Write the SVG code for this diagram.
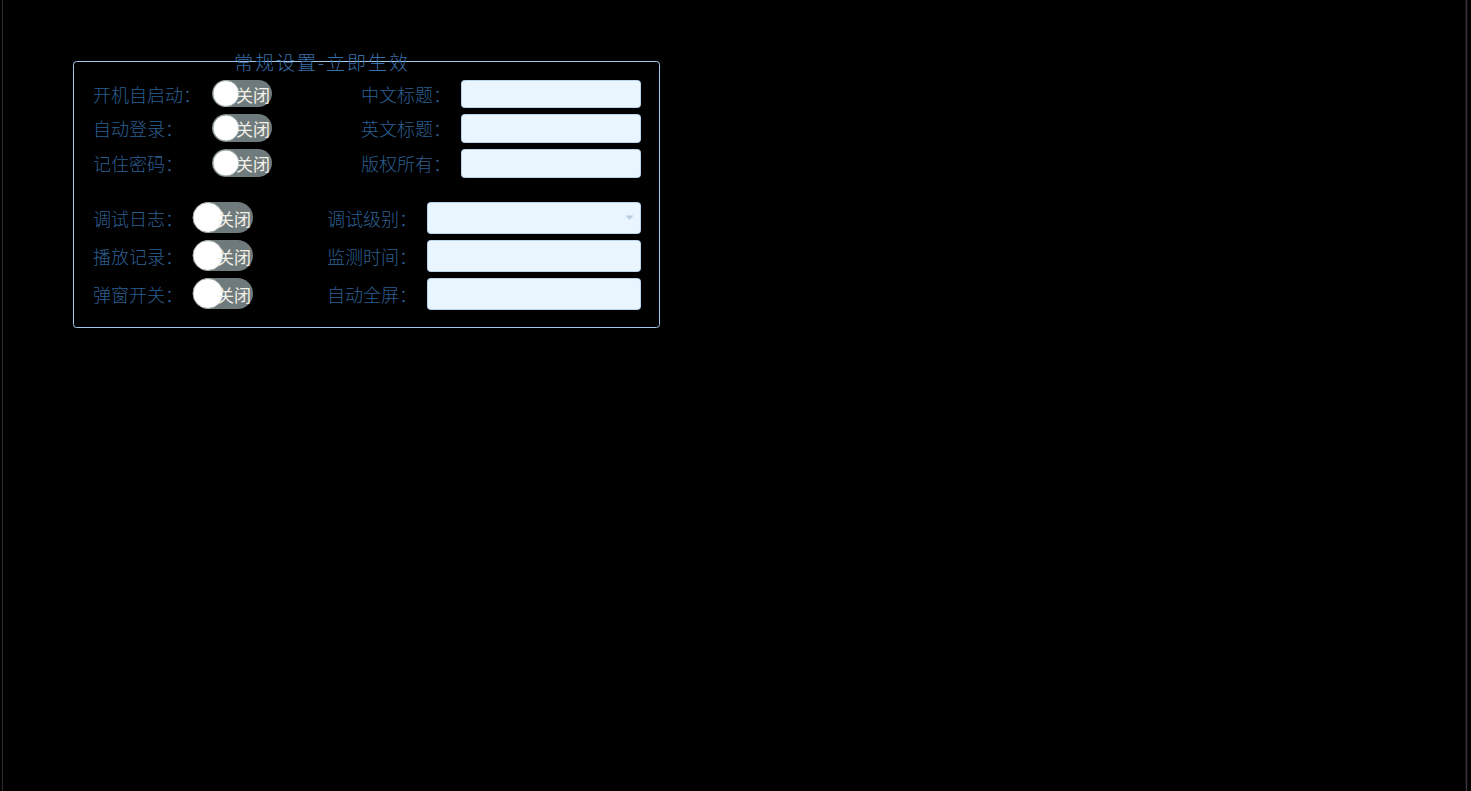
<svg xmlns="http://www.w3.org/2000/svg" width="1471" height="791" viewBox="0 0 1471 791">
<style>
.lbl{font-family:"Noto Sans CJK SC","Noto Sans CJK JP",sans-serif;font-size:18px;font-weight:300;fill:#2c5f90;dominant-baseline:central}
.ttl{font-family:"Noto Sans CJK SC","Noto Sans CJK JP",sans-serif;font-size:19px;font-weight:300;fill:#3a6ea8;dominant-baseline:central}
.pill{fill:#6f7a7c}
.knob{fill:#ffffff;stroke:#9aa3a5;stroke-width:1}
.tt{font-family:"Noto Sans CJK SC","Noto Sans CJK JP",sans-serif;font-size:17px;fill:#f2efe6;dominant-baseline:central}
.inp{fill:#e9f5ff;stroke:#b9d3ea;stroke-width:1}
</style>
<rect x="0" y="0" width="1471" height="791" fill="#000"/>
<line x1="2.5" y1="0" x2="2.5" y2="791" stroke="#2a2c30" stroke-width="1"/>
<line x1="1466.5" y1="0" x2="1466.5" y2="791" stroke="#34363c" stroke-width="1.5"/>
<g id="frame">
<rect x="73.5" y="61.5" width="586" height="266" rx="3" fill="none" stroke="#a4c8ec" stroke-width="1"/>
<text class="ttl" x="234" y="61" textLength="174" lengthAdjust="spacing">常规设置-立即生效</text>
</g>
<g id="autostart">
<text class="lbl" x="93" y="94">开机自启动：</text>
<rect class="pill" x="212" y="80" width="60" height="27" rx="13.5"/>
<circle class="knob" cx="226" cy="93.5" r="13"/>
<text class="tt" x="236" y="94">关闭</text>
</g>
<g id="autologin">
<text class="lbl" x="93" y="128">自动登录：</text>
<rect class="pill" x="212" y="114" width="60" height="28" rx="14"/>
<circle class="knob" cx="226" cy="128" r="13"/>
<text class="tt" x="236" y="128.5">关闭</text>
</g>
<g id="rememberpwd">
<text class="lbl" x="93" y="163">记住密码：</text>
<rect class="pill" x="212" y="149" width="60" height="28" rx="14"/>
<circle class="knob" cx="226" cy="163" r="13"/>
<text class="tt" x="236" y="163.5">关闭</text>
</g>
<g id="cntitle">
<text class="lbl" x="361" y="94">中文标题：</text>
<rect class="inp" x="461.5" y="80.5" width="179" height="27" rx="3"/>
</g>
<g id="entitle">
<text class="lbl" x="361" y="128">英文标题：</text>
<rect class="inp" x="461.5" y="114.5" width="179" height="28" rx="3"/>
</g>
<g id="copyright">
<text class="lbl" x="361" y="163">版权所有：</text>
<rect class="inp" x="461.5" y="149.5" width="179" height="28" rx="3"/>
</g>
<g id="debuglog">
<text class="lbl" x="93" y="218">调试日志：</text>
<rect class="pill" x="193" y="202" width="60" height="31" rx="15.5"/>
<circle class="knob" cx="208" cy="217.5" r="15"/>
<text class="tt" x="217" y="218">关闭</text>
</g>
<g id="playrecord">
<text class="lbl" x="93" y="256">播放记录：</text>
<rect class="pill" x="193" y="240" width="60" height="31" rx="15.5"/>
<circle class="knob" cx="208" cy="255.5" r="15"/>
<text class="tt" x="217" y="256">关闭</text>
</g>
<g id="popup">
<text class="lbl" x="93" y="294">弹窗开关：</text>
<rect class="pill" x="193" y="278" width="60" height="31" rx="15.5"/>
<circle class="knob" cx="208" cy="293.5" r="15"/>
<text class="tt" x="217" y="294">关闭</text>
</g>
<g id="debuglevel">
<text class="lbl" x="327" y="218">调试级别：</text>
<rect class="inp" x="427.5" y="202.5" width="213" height="31" rx="3"/>
<polygon points="625.5,215.5 633.5,215.5 629.5,220" fill="#b9cfe2"/>
</g>
<g id="monitortime">
<text class="lbl" x="327" y="256">监测时间：</text>
<rect class="inp" x="427.5" y="240.5" width="213" height="31" rx="3"/>
</g>
<g id="autofull">
<text class="lbl" x="327" y="294">自动全屏：</text>
<rect class="inp" x="427.5" y="278.5" width="213" height="31" rx="3"/>
</g>
<g id="connectors"></g>
</svg>
